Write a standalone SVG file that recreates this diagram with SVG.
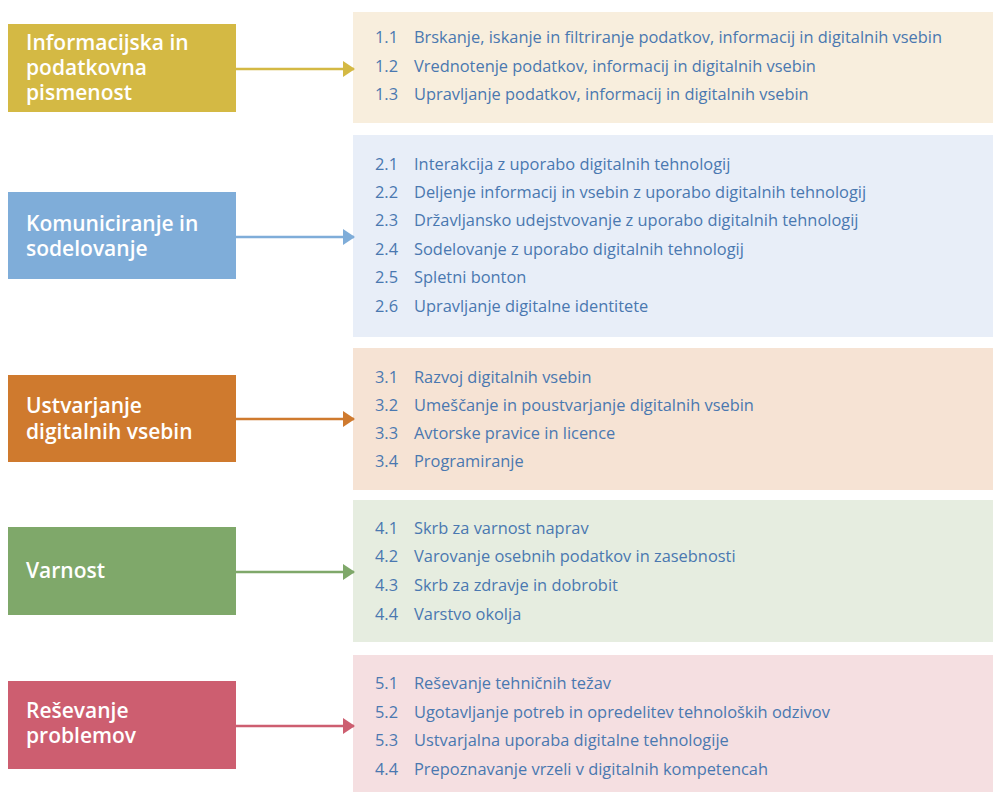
<svg xmlns="http://www.w3.org/2000/svg" width="993" height="792" viewBox="0 0 993 792">
<style>
.cat{font-family:"Open Sans","Liberation Sans",sans-serif;font-weight:600;font-size:21px;fill:#ffffff}
.it{font-family:"Open Sans","Liberation Sans",sans-serif;font-size:16.4px;fill:#4a78b0}
.ln{stroke-width:2.5;fill:none}
</style>
<defs>
<marker id="m1" markerWidth="12" markerHeight="16" refX="11" refY="8" orient="auto" markerUnits="userSpaceOnUse"><path d="M0,0 L12,8 L0,16 Z" fill="#d4b944"/></marker>
<marker id="m2" markerWidth="12" markerHeight="16" refX="11" refY="8" orient="auto" markerUnits="userSpaceOnUse"><path d="M0,0 L12,8 L0,16 Z" fill="#7fadd9"/></marker>
<marker id="m3" markerWidth="12" markerHeight="16" refX="11" refY="8" orient="auto" markerUnits="userSpaceOnUse"><path d="M0,0 L12,8 L0,16 Z" fill="#cf7a2e"/></marker>
<marker id="m4" markerWidth="12" markerHeight="16" refX="11" refY="8" orient="auto" markerUnits="userSpaceOnUse"><path d="M0,0 L12,8 L0,16 Z" fill="#7fa86a"/></marker>
<marker id="m5" markerWidth="12" markerHeight="16" refX="11" refY="8" orient="auto" markerUnits="userSpaceOnUse"><path d="M0,0 L12,8 L0,16 Z" fill="#cd5e70"/></marker>
</defs>
<rect width="993" height="792" fill="#ffffff"/>

<g id="panel1">
<rect x="353" y="12" width="640" height="111" fill="#f8eedd"/>
<text class="it" x="375" y="43">1.1</text><text class="it" x="414" y="43">Brskanje, iskanje in filtriranje podatkov, informacij in digitalnih vsebin</text>
<text class="it" x="375" y="72">1.2</text><text class="it" x="414" y="72">Vrednotenje podatkov, informacij in digitalnih vsebin</text>
<text class="it" x="375" y="100">1.3</text><text class="it" x="414" y="100">Upravljanje podatkov, informacij in digitalnih vsebin</text>
</g>
<g id="panel2">
<rect x="353" y="135" width="640" height="202" fill="#e8eef8"/>
<text class="it" x="375" y="170">2.1</text><text class="it" x="414" y="170">Interakcija z uporabo digitalnih tehnologij</text>
<text class="it" x="375" y="198">2.2</text><text class="it" x="414" y="198">Deljenje informacij in vsebin z uporabo digitalnih tehnologij</text>
<text class="it" x="375" y="226">2.3</text><text class="it" x="414" y="226">Državljansko udejstvovanje z uporabo digitalnih tehnologij</text>
<text class="it" x="375" y="255">2.4</text><text class="it" x="414" y="255">Sodelovanje z uporabo digitalnih tehnologij</text>
<text class="it" x="375" y="283">2.5</text><text class="it" x="414" y="283">Spletni bonton</text>
<text class="it" x="375" y="312">2.6</text><text class="it" x="414" y="312">Upravljanje digitalne identitete</text>
</g>
<g id="panel3">
<rect x="353" y="348" width="640" height="142" fill="#f6e3d4"/>
<text class="it" x="375" y="383">3.1</text><text class="it" x="414" y="383">Razvoj digitalnih vsebin</text>
<text class="it" x="375" y="411">3.2</text><text class="it" x="414" y="411">Umeščanje in poustvarjanje digitalnih vsebin</text>
<text class="it" x="375" y="439">3.3</text><text class="it" x="414" y="439">Avtorske pravice in licence</text>
<text class="it" x="375" y="467">3.4</text><text class="it" x="414" y="467">Programiranje</text>
</g>
<g id="panel4">
<rect x="353" y="500" width="640" height="142" fill="#e6ede0"/>
<text class="it" x="375" y="534">4.1</text><text class="it" x="414" y="534">Skrb za varnost naprav</text>
<text class="it" x="375" y="562">4.2</text><text class="it" x="414" y="562">Varovanje osebnih podatkov in zasebnosti</text>
<text class="it" x="375" y="591">4.3</text><text class="it" x="414" y="591">Skrb za zdravje in dobrobit</text>
<text class="it" x="375" y="620">4.4</text><text class="it" x="414" y="620">Varstvo okolja</text>
</g>
<g id="panel5">
<rect x="353" y="655" width="640" height="137" fill="#f5dfe1"/>
<text class="it" x="375" y="689">5.1</text><text class="it" x="414" y="689">Reševanje tehničnih težav</text>
<text class="it" x="375" y="718">5.2</text><text class="it" x="414" y="718">Ugotavljanje potreb in opredelitev tehnoloških odzivov</text>
<text class="it" x="375" y="746">5.3</text><text class="it" x="414" y="746">Ustvarjalna uporaba digitalne tehnologije</text>
<text class="it" x="375" y="775">4.4</text><text class="it" x="414" y="775">Prepoznavanje vrzeli v digitalnih kompetencah</text>
</g>

<g id="box1">
<rect x="8" y="24" width="228" height="88" fill="#d4b944"/>
<text class="cat" x="26" y="50">Informacijska in</text>
<text class="cat" x="26" y="75">podatkovna</text>
<text class="cat" x="26" y="100">pismenost</text>
</g>
<g id="box2">
<rect x="8" y="192" width="228" height="87" fill="#7fadd9"/>
<text class="cat" x="26" y="231">Komuniciranje in</text>
<text class="cat" x="26" y="256">sodelovanje</text>
</g>
<g id="box3">
<rect x="8" y="375" width="228" height="87" fill="#cf7a2e"/>
<text class="cat" x="26" y="413">Ustvarjanje</text>
<text class="cat" x="26" y="439">digitalnih vsebin</text>
</g>
<g id="box4">
<rect x="8" y="527" width="228" height="88" fill="#7fa86a"/>
<text class="cat" x="26" y="578">Varnost</text>
</g>
<g id="box5">
<rect x="8" y="681" width="228" height="88" fill="#cd5e70"/>
<text class="cat" x="26" y="718">Reševanje</text>
<text class="cat" x="26" y="743">problemov</text>
</g>

<g id="connectors">
<line class="ln" x1="236" y1="69" x2="354" y2="69" stroke="#d4b944" marker-end="url(#m1)"/>
<line class="ln" x1="236" y1="237" x2="354" y2="237" stroke="#7fadd9" marker-end="url(#m2)"/>
<line class="ln" x1="236" y1="419" x2="354" y2="419" stroke="#cf7a2e" marker-end="url(#m3)"/>
<line class="ln" x1="236" y1="572" x2="354" y2="572" stroke="#7fa86a" marker-end="url(#m4)"/>
<line class="ln" x1="236" y1="726" x2="354" y2="726" stroke="#cd5e70" marker-end="url(#m5)"/>
</g>
</svg>
